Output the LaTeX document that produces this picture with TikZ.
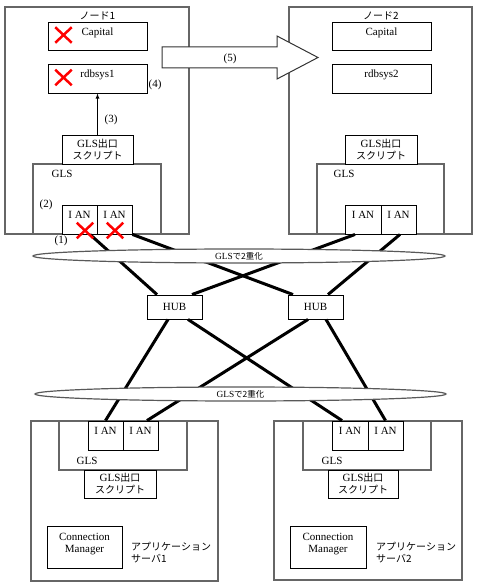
\documentclass[tikz,border=0pt]{standalone}
\usepackage{fontspec}
\setmainfont{Liberation Serif}[Scale=1.1]
\newfontfamily\jp{Noto Sans CJK JP}
\usetikzlibrary{shapes.geometric,shapes.misc}
\newcommand{\exitscript}{GLS{\jp 出口}\\{\jp スクリプト}}

\begin{document}
\begin{tikzpicture}[x=1pt,y=-1pt,
    every node/.style={font=\fontsize{10}{12}\selectfont,inner sep=0pt,align=center},
    frame/.style={draw=black!60,line width=1.2pt},
    box/.style={draw,line width=0.9pt,fill=white},
    high/.style={text depth=9pt},
    link/.style={line width=3pt},
    dup/.style={ellipse,draw=black!65,line width=1.2pt,fill=white,font=\fontsize{8.5}{9}\selectfont},
    ng/.style={cross out,draw=red,line width=2.5pt,minimum width=14pt,minimum height=13pt}]
  \useasboundingbox (0,0) rectangle (479,588);
  \node[frame,minimum width=184pt,minimum height=227pt] (Node1) at (97,120.5) {};
  \node[frame,minimum width=183pt,minimum height=227pt] (Node2) at (380.5,120.5) {};
  \node[frame,minimum width=187pt,minimum height=160pt] (Server1) at (124.5,501) {};
  \node[frame,minimum width=188pt,minimum height=159pt] (Server2) at (368,500.5) {};
  \node[frame,fill=white,minimum width=128pt,minimum height=70pt] (GLS1) at (97,199) {};
  \node[frame,fill=white,minimum width=127pt,minimum height=70pt] (GLS2) at (380.5,199) {};
  \node[frame,fill=white,minimum width=128pt,minimum height=49pt] (GLS3) at (123,445.5) {};
  \node[frame,fill=white,minimum width=128pt,minimum height=49pt] (GLS4) at (367,445.5) {};
  \node (Title1) at (97.5,16) {\jp ノード1};
  \node (Title2) at (381,16) {\jp ノード2};
  \node[box,high,minimum width=99pt,minimum height=28pt] (Capital1) at (97.5,36) {Capital};
  \node[box,high,minimum width=99pt,minimum height=29pt] (rdbsys1) at (97.5,78.5) {rdbsys1};
  \node[box,high,minimum width=99pt,minimum height=28pt] (Capital2) at (381.5,36) {Capital};
  \node[box,high,minimum width=99pt,minimum height=29pt] (rdbsys2) at (381.5,78.5) {rdbsys2};
  \node[box,minimum width=71pt,minimum height=29pt] (Script1) at (97.5,149.5) {\exitscript};
  \node[box,minimum width=72pt,minimum height=29pt] (Script2) at (381,149.5) {\exitscript};
  \node[box,minimum width=72pt,minimum height=28pt] (Script3) at (120,484) {\exitscript};
  \node[box,minimum width=70pt,minimum height=28pt] (Script4) at (363,484) {\exitscript};
  \node (GLSlabel1) at (62,174) {GLS};
  \node (GLSlabel2) at (344,174) {GLS};
  \node (GLSlabel3) at (87,461) {GLS};
  \node (GLSlabel4) at (332,461) {GLS};
  \node[box,high,minimum width=35pt,minimum height=29pt] (IAN1a) at (79.5,219.5) {I AN};
  \node[box,high,minimum width=35pt,minimum height=29pt] (IAN1b) at (114.5,219.5) {I AN};
  \node[box,high,minimum width=36pt,minimum height=29pt] (IAN2a) at (363,219.5) {I AN};
  \node[box,high,minimum width=35pt,minimum height=29pt] (IAN2b) at (398.5,219.5) {I AN};
  \node[box,high,minimum width=35pt,minimum height=29pt] (IAN3a) at (105.5,435.5) {I AN};
  \node[box,high,minimum width=35pt,minimum height=29pt] (IAN3b) at (140.5,435.5) {I AN};
  \node[box,high,minimum width=36pt,minimum height=29pt] (IAN4a) at (350,435.5) {I AN};
  \node[box,high,minimum width=35pt,minimum height=29pt] (IAN4b) at (385.5,435.5) {I AN};
  \node[box,high,minimum width=75pt,minimum height=42pt] (CM1) at (84.5,547) {Connection\\Manager};
  \node[box,high,minimum width=76pt,minimum height=42pt] (CM2) at (328,547) {Connection\\Manager};
  \node[anchor=west,align=left] (App1) at (131,553) {{\jp アプリケーション}\\{\jp サーバ1}};
  \node[anchor=west,align=left] (App2) at (376,553) {{\jp アプリケーション}\\{\jp サーバ2}};
  \node[box,minimum width=55pt,minimum height=24pt] (HUB1) at (174.5,307) {HUB};
  \node[box,minimum width=55pt,minimum height=24pt] (HUB2) at (315.5,307) {HUB};
  \draw[link] ([xshift=10.5pt]IAN1a.south) -- ([xshift=-17.5pt]HUB1.north);
  \draw[link] (IAN1b.south east) -- ([xshift=-22.5pt]HUB2.north);
  \draw[link] ([xshift=-8pt]IAN2a.south) -- ([xshift=17.5pt]HUB1.north);
  \draw[link] ([xshift=1.5pt]IAN2b.south) -- ([xshift=12.5pt]HUB2.north);
  \draw[link] ([xshift=-6.5pt]HUB1.south) -- (IAN3a.north);
  \draw[link] ([xshift=13.5pt]HUB1.south) -- ([xshift=-8pt]IAN4a.north);
  \draw[link] ([xshift=-7.5pt]HUB2.south) -- ([xshift=6.5pt]IAN3b.north);
  \draw[link] ([xshift=10.5pt]HUB2.south) -- (IAN4b.north);
  \node[dup,minimum width=412pt,minimum height=14pt] (Dup1) at (239,256) {GLS{\jp で2重化}};
  \node[dup,minimum width=411pt,minimum height=14pt] (Dup2) at (240.5,394) {GLS{\jp で2重化}};
  \draw[-latex,line width=0.8pt] (Script1) -- (rdbsys1);
  \draw[line width=1pt,draw=black!80,fill=white] (162,47) -- (277,47) -- (277,36) -- (318,57.5)
    -- (277,79) -- (277,68) -- (162,68) -- cycle;
  \node (Step5) at (230,59) {(5)};
  \node (Step4) at (155,85) {(4)};
  \node (Step3) at (111,120) {(3)};
  \node (Step2) at (46,205) {(2)};
  \node (Step1) at (61,241) {(1)};
  \node[ng] (NG1) at (63.5,35) {};
  \node[ng] (NG2) at (63.5,77.5) {};
  \node[ng] (NG3) at (85,230.5) {};
  \node[ng] (NG4) at (115,230.5) {};
\end{tikzpicture}
\end{document}
